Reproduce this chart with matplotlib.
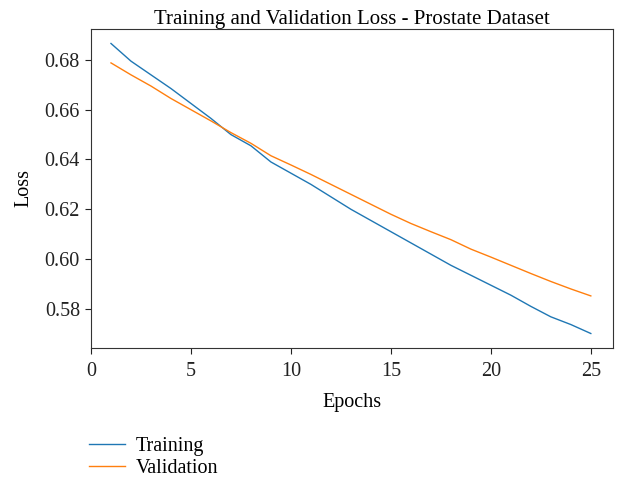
import matplotlib
matplotlib.use("Agg")
import matplotlib.pyplot as plt

plt.rcParams['font.family'] = ['Liberation Serif', 'DejaVu Serif']

epochs = list(range(1, 26))
train_loss = [0.6866, 0.6795, 0.6740, 0.6685, 0.6625, 0.6565, 0.6500, 0.6455,
              0.6390, 0.6345, 0.6300, 0.6250, 0.6200, 0.6155, 0.6110, 0.6065,
              0.6020, 0.5975, 0.5935, 0.5895, 0.5855, 0.5810, 0.5768, 0.5737,
              0.5701]
val_loss = [0.6788, 0.6740, 0.6695, 0.6645, 0.6600, 0.6555, 0.6508, 0.6465,
            0.6415, 0.6378, 0.6340, 0.6300, 0.6260, 0.6220, 0.6180, 0.6143,
            0.6110, 0.6078, 0.6040, 0.6008, 0.5975, 0.5942, 0.5910, 0.5880,
            0.5852]
series_labels = ["Training", "Validation"]
y_ticks = [0.58, 0.60, 0.62, 0.64, 0.66, 0.68]

fig = plt.figure(figsize=(6.19, 4.83), dpi=100)
ax = fig.add_axes([0.147, 0.2795, 0.843, 0.6605])

ax.plot(epochs, train_loss, color="#1f77b4", lw=1.0, label=series_labels[0])
ax.plot(epochs, val_loss, color="#ff7f0e", lw=1.0, label=series_labels[1])

ax.set_xlim(0, 26.1)
ax.set_xticks([0, 5, 10, 15, 20, 25])
ax.set_yticks(y_ticks)
ax.set_yticklabels([f"{v:.2f}" for v in y_ticks])
ax.tick_params(labelsize=14.5, colors="#222222", length=4, pad=4)
ax.tick_params(axis="x", pad=6)
for s in ax.spines.values():
    s.set_color("#333333")

ax.set_title("Training and Validation Loss - Prostate Dataset", fontsize=15, pad=2)
ax.set_xlabel("Epochs", fontsize=14.5, labelpad=9)
ax.set_ylabel("Loss", fontsize=14.5, labelpad=8)

fig.legend(loc="upper left", bbox_to_anchor=(0.128, 0.117), frameon=False,
           fontsize=14.5, handlelength=1.75, labelspacing=0.15, borderpad=0,
           handletextpad=0.55)

fig.savefig("out.png", dpi=100)
